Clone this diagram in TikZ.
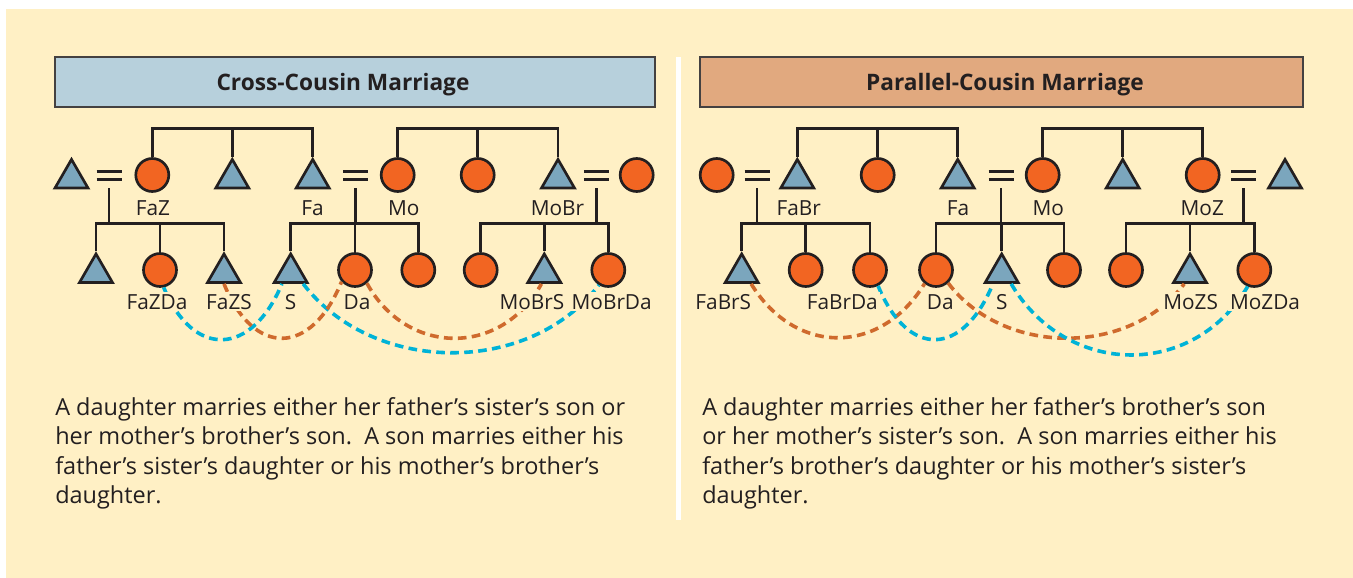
\documentclass[tikz,border=0pt]{standalone}
\usepackage{fontspec}
\setmainfont{Open Sans}
\usetikzlibrary{shapes.geometric}

\definecolor{panel}{HTML}{FFF0C5}
\definecolor{crossfill}{HTML}{B7D0DC}
\definecolor{parfill}{HTML}{E1A97F}
\definecolor{mancol}{HTML}{7BA6BD}
\definecolor{womancol}{HTML}{F26522}
\definecolor{ink}{HTML}{231F20}
\definecolor{dawedcol}{HTML}{CF6A2D}
\definecolor{sonwedcol}{HTML}{00B3D7}

% sibling bar: y of the bar, first, middle and last sibling
\newcommand{\sibbar}[4]{%
  \draw[kin] (#2.north) |- (#4.north |- 0,#1) -- (#4.north)
             (#3.north) -- (#3.north |- 0,#1);}
% marriage sign, then the line of descent down to the children's bar
\newcommand{\wed}[2]{%
  \draw[kin] (#1) ++(-12.5,-3.8) -- ++(25,0) (#1) ++(-12.5,3.8) -- ++(25,0);
  \draw[kin] (#1) ++(0,12.5) -- (#1 |- 0,#2);}

\begin{document}
\begin{tikzpicture}[x=0.75pt,y=-0.75pt,
    man/.style={regular polygon,regular polygon sides=3,draw=ink,fill=mancol,
      line width=2pt,minimum size=28.6pt,inner sep=0pt},
    woman/.style={circle,draw=ink,fill=womancol,line width=2pt,
      minimum size=24.75pt,inner sep=0pt},
    kin/.style={draw=ink,line width=2pt},
    kinlabel/.style={fill=panel,inner sep=1.5pt,anchor=base,text=ink,
      font=\fontsize{15.6}{18}\selectfont},
    sonwed/.style={draw=sonwedcol,line width=2.7pt,dash pattern=on 6.5pt off 4pt},
    dawed/.style={draw=dawedcol,line width=2.7pt,dash pattern=on 6.5pt off 4pt},
    titletext/.style={text=ink,font=\fontsize{17}{20}\selectfont\bfseries},
    para/.style={anchor=north west,inner sep=0pt,align=left,text=ink,
      font=\fontsize{17.6}{22.1}\selectfont}]

	\useasboundingbox (0,0) rectangle (1353,578);
	\fill[white] (0,0) rectangle (1353,578);
	\fill[panel] (6,9) rectangle (1353,578);
	\fill[white] (675.5,57) rectangle (680.5,520);

	% headings
	\draw[draw=ink!85,line width=1pt,fill=crossfill] (55,57) rectangle (655,107);
	\draw[draw=ink!85,line width=1pt,fill=parfill] (700,57) rectangle (1303,107);
	\node[titletext] (crosstitle) at (343,84.5) {Cross-Cousin Marriage};
	\node[titletext] (partitle) at (1005,84.5) {Parallel-Cousin Marriage};

	%%%%%% cross cousins
	\node[man]   (cFaZH)  at (71.5,178.5) {};
	\node[woman] (cFaZ)   at (152.3,175) {};
	\node[man]   (cFaB)   at (232.3,178.5) {};
	\node[man]   (cFa)    at (312.7,178.5) {};
	\node[woman] (cMo)    at (397.7,175) {};
	\node[woman] (cMoZ)   at (477.7,175) {};
	\node[man]   (cMoBr)  at (558,178.5) {};
	\node[woman] (cMoBrW) at (636.7,175) {};
	\coordinate (ceq1) at (109,175.5);
	\coordinate (ceq2) at (355.8,175.5);
	\coordinate (ceq3) at (596.3,175.5);

	\node[man]   (cFaZS1)   at (96,273) {};
	\node[woman] (cFaZDa)   at (160,270) {};
	\node[man]   (cFaZS)    at (224,273) {};
	\node[man]   (cS)       at (290.7,273) {};
	\node[woman] (cDa)      at (355,270) {};
	\node[woman] (cDa2)     at (418.3,270) {};
	\node[woman] (cMoBrDa2) at (480.7,270) {};
	\node[man]   (cMoBrS)   at (544.3,273) {};
	\node[woman] (cMoBrDa)  at (608.3,270) {};

	\sibbar{128.3}{cFaZ}{cFaB}{cFa}
	\sibbar{128.3}{cMo}{cMoZ}{cMoBr}
	\wed{ceq1}{223.3} \wed{ceq2}{223.3} \wed{ceq3}{223.3}
	\sibbar{223.3}{cFaZS1}{cFaZDa}{cFaZS}
	\sibbar{223.3}{cS}{cDa}{cDa2}
	\sibbar{223.3}{cMoBrDa2}{cMoBrS}{cMoBrDa}

	\draw[sonwed] (cFaZDa.-78) .. controls +(30,72) and +(-30,72) .. (cS.-129);
	\draw[sonwed] (cS.-41) .. controls +(70,91) and +(-70,91) .. (cMoBrDa.-122);
	\draw[dawed] (cFaZS.-90) .. controls +(30,74) and +(-30,74) .. (cDa.-139);
	\draw[dawed] (cDa.-48) .. controls +(40,73) and +(-40,73) .. (cMoBrS.-105);

	\node[kinlabel] (lcFaZ)    at (153,215) {FaZ};
	\node[kinlabel] (lcFa)     at (312.5,215) {Fa};
	\node[kinlabel] (lcMo)     at (403.7,215) {Mo};
	\node[kinlabel] (lcMoBr)   at (557.5,215) {MoBr};
	\node[kinlabel] (lcFaZDa)  at (157,309) {FaZDa};
	\node[kinlabel] (lcFaZS)   at (229,309) {FaZS};
	\node[kinlabel] (lcS)      at (290.7,309) {S};
	\node[kinlabel] (lcDa)     at (357,309) {Da};
	\node[kinlabel] (lcMoBrS)  at (532,309) {MoBrS};
	\node[kinlabel] (lcMoBrDa) at (611.7,309) {MoBrDa};

	\node[para] (crosstext) at (55,397) {A daughter marries either her father’s sister’s son or\\
	  her mother’s brother’s son.\ \ A son marries either his\\
	  father’s sister’s daughter or his mother’s brother’s\\
	  daughter.};

	%%%%%% parallel cousins
	\node[woman] (pFaBrW) at (716.7,175) {};
	\node[man]   (pFaBr)  at (797.3,178.5) {};
	\node[woman] (pFaZ)   at (877.7,175) {};
	\node[man]   (pFa)    at (957.7,178.5) {};
	\node[woman] (pMo)    at (1042.7,175) {};
	\node[man]   (pMoBr)  at (1122.7,178.5) {};
	\node[woman] (pMoZ)   at (1202.7,175) {};
	\node[man]   (pMoZH)  at (1285,178.5) {};
	\coordinate (peq1) at (757,175.5);
	\coordinate (peq2) at (1001,175.5);
	\coordinate (peq3) at (1243.8,175.5);

	\node[man]   (pFaBrS)   at (741.7,273) {};
	\node[woman] (pFaBrDa2) at (805.7,270) {};
	\node[woman] (pFaBrDa)  at (870,270) {};
	\node[woman] (pDa)      at (936,270) {};
	\node[man]   (pS)       at (1001.7,273) {};
	\node[woman] (pDa2)     at (1064,270) {};
	\node[woman] (pMoZDa2)  at (1126,270) {};
	\node[man]   (pMoZS)    at (1190,273) {};
	\node[woman] (pMoZDa)   at (1254.3,270) {};

	\sibbar{128.3}{pFaBr}{pFaZ}{pFa}
	\sibbar{128.3}{pMo}{pMoBr}{pMoZ}
	\wed{peq1}{223.3} \wed{peq2}{223.3} \wed{peq3}{223.3}
	\sibbar{223.3}{pFaBrS}{pFaBrDa2}{pFaBrDa}
	\sibbar{223.3}{pDa}{pS}{pDa2}
	\sibbar{223.3}{pMoZDa2}{pMoZS}{pMoZDa}

	\draw[dawed] (pFaBrS.-49) .. controls +(44,72) and +(-44,72) .. (pDa.-130);
	\draw[sonwed] (pFaBrDa.-63) .. controls +(30,73) and +(-30,73) .. (pS.-129);
	\draw[dawed] (pDa.-47) .. controls +(55,73) and +(-55,73) .. (pMoZS.-118);
	\draw[sonwed] (pS.-49) .. controls +(55,93) and +(-55,93) .. (pMoZDa.-112);

	\node[kinlabel] (lpFaBr)   at (798.7,215) {FaBr};
	\node[kinlabel] (lpFa)     at (958,215) {Fa};
	\node[kinlabel] (lpMo)     at (1048.3,215) {Mo};
	\node[kinlabel] (lpMoZ)    at (1202.3,215) {MoZ};
	\node[kinlabel] (lpFaBrS)  at (723.3,309) {FaBrS};
	\node[kinlabel] (lpFaBrDa) at (842.3,309) {FaBrDa};
	\node[kinlabel] (lpDa)     at (940.3,309) {Da};
	\node[kinlabel] (lpS)      at (1001.7,309) {S};
	\node[kinlabel] (lpMoZS)   at (1190.7,309) {MoZS};
	\node[kinlabel] (lpMoZDa)  at (1265,309) {MoZDa};

	\node[para] (partext) at (702,397) {A daughter marries either her father’s brother’s son\\
	  or her mother’s sister’s son.\ \ A son marries either his\\
	  father’s brother’s daughter or his mother’s sister’s\\
	  daughter.};

\end{tikzpicture}
\end{document}
